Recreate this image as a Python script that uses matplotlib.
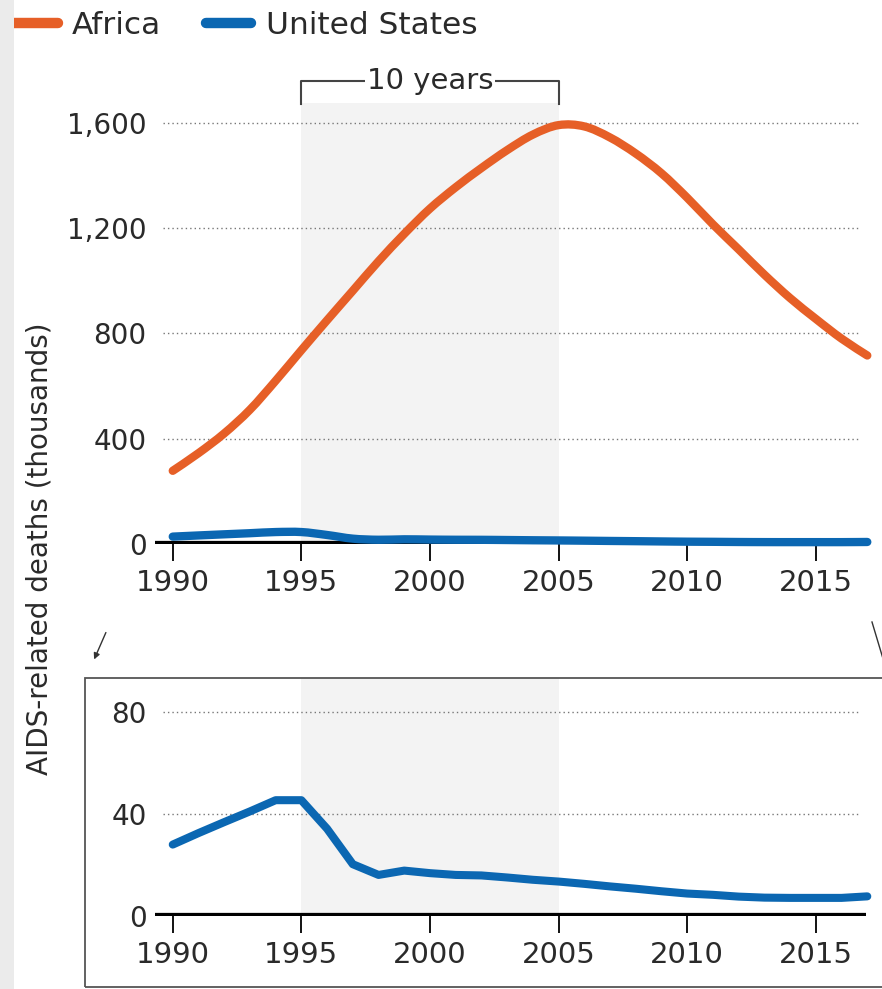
import matplotlib
matplotlib.use("Agg")
import matplotlib.pyplot as plt
from matplotlib.lines import Line2D
from matplotlib.patches import Rectangle, FancyArrowPatch, PathPatch
from matplotlib.path import Path
import matplotlib.transforms as mtransforms

plt.rcParams['font.family'] = ['DejaVu Sans']

# ---- data ----
years = list(range(1990, 2018))
africa = [278, 345, 420, 510, 620, 736, 850, 962, 1074, 1178, 1274, 1355, 1428,
          1496, 1555, 1591, 1586, 1544, 1483, 1408, 1315, 1214, 1119, 1023, 934,
          855, 780, 716]
united_states = [28, 32.5, 36.8, 41, 45.4, 45.4, 34.2, 20.3, 16.1, 17.8, 16.8,
                 16.1, 15.9, 15.1, 14.2, 13.5, 12.6, 11.6, 10.7, 9.7, 8.8, 8.3,
                 7.6, 7.2, 7.1, 7.1, 7.1, 7.7]
series_names = ["Africa", "United States"]
top_ticks = [0, 400, 800, 1200, 1600]
top_ticklabels = ["0", "400", "800", "1,200", "1,600"]
bot_ticks = [0, 40, 80]
bot_ticklabels = ["0", "40", "80"]
x_ticks = [1990, 1995, 2000, 2005, 2010, 2015]
x_ticklabels = ["1990", "1995", "2000", "2005", "2010", "2015"]
highlight_span = (1995, 2005)
highlight_label = "10 years"
y_label = "AIDS-related deaths (thousands)"

ORANGE = "#E65F27"
BLUE = "#0B67B2"
SHADE = "#F3F3F3"
TEXT = "#2a2a2a"

W, H = 882, 989
fig = plt.figure(figsize=(W / 100, H / 100), dpi=100)
fig.patch.set_facecolor("white")


def fx(px):
    return px / W


def fy(py):
    return 1 - py / H


xlim = (1989.31, 2016.95)


def smooth_path(xs, ys):
    """Curved rendering (Catmull-Rom as cubic Bezier) through the data points."""
    n = len(xs)
    verts = [(xs[0], ys[0])]
    codes = [Path.MOVETO]
    for i in range(n - 1):
        x0, y0 = (xs[i - 1], ys[i - 1]) if i > 0 else (xs[i], ys[i])
        x1, y1 = xs[i], ys[i]
        x2, y2 = xs[i + 1], ys[i + 1]
        x3, y3 = (xs[i + 2], ys[i + 2]) if i + 2 < n else (x2, y2)
        verts += [(x1 + (x2 - x0) / 6, y1 + (y2 - y0) / 6),
                  (x2 - (x3 - x1) / 6, y2 - (y3 - y1) / 6),
                  (x2, y2)]
        codes += [Path.CURVE4] * 3
    return Path(verts, codes)


def style_axes(ax, ticks, ticklabels, grid_vals, ylim):
    ax.set_xlim(*xlim)
    ax.set_ylim(*ylim)
    for s in ax.spines.values():
        s.set_visible(False)
    ax.set_facecolor("none")
    ax.axvspan(*highlight_span, color=SHADE, zorder=0, lw=0)
    for g in grid_vals:
        ax.axhline(g, xmin=0.011, xmax=0.99, color="#777777", lw=1.0,
                   linestyle=(0, (1, 2.2)), zorder=1)
    ax.axhline(0, color="black", lw=4.5, zorder=2, solid_capstyle="butt")
    ax.set_yticks(ticks)
    ax.set_yticklabels(ticklabels)
    ax.tick_params(axis="y", length=0, pad=6, labelsize=20, labelcolor=TEXT)
    ax.set_xticks(x_ticks)
    ax.set_xticklabels(x_ticklabels)
    ax.tick_params(axis="x", direction="out", length=12, width=1.3,
                   color="black", pad=6, labelsize=21, labelcolor=TEXT)


# ---- top axes ----
ax1 = fig.add_axes([fx(155), fy(544), fx(866 - 155), (544 - 103) / H])
style_axes(ax1, top_ticks, top_ticklabels, top_ticks[1:], (0, 1675))
for vals, col in ((africa, ORANGE), (united_states, BLUE)):
    pp = PathPatch(smooth_path(years, vals), facecolor="none", edgecolor=col,
                   lw=6.0, capstyle="round", joinstyle="round", zorder=4,
                   clip_on=False, transform=ax1.transData)
    ax1.add_patch(pp)

# bracket "10 years"
blend = mtransforms.blended_transform_factory(ax1.transData, ax1.transAxes)
yb = 1 + 22 / 441
ax1.plot([highlight_span[0], highlight_span[0], highlight_span[1], highlight_span[1]],
         [0.998, yb, yb, 0.998], transform=blend, color="#444444", lw=1.5,
         clip_on=False, zorder=5)
ax1.text(sum(highlight_span) / 2, yb, highlight_label, transform=blend,
         ha="center", va="center", fontsize=21, color=TEXT, zorder=6,
         bbox=dict(facecolor="white", edgecolor="none", pad=1.0))

# ---- bottom axes ----
ax2 = fig.add_axes([fx(155), fy(916), fx(866 - 155), (916 - 678) / H])
style_axes(ax2, bot_ticks, bot_ticklabels, bot_ticks[1:], (0, 93.3))
ax2.plot(years, united_states, color=BLUE, lw=5.8, solid_capstyle="round",
         solid_joinstyle="round", zorder=4, clip_on=False)

# inset frame
fig.add_artist(Rectangle((fx(85), fy(987)), fx(900 - 85), (987 - 678) / H,
                         transform=fig.transFigure, facecolor="none",
                         edgecolor="#555555", lw=1.3, zorder=10))

# zoom arrows
fig.add_artist(FancyArrowPatch((fx(107), fy(630)), (fx(93), fy(662)),
                               transform=fig.transFigure, arrowstyle="-|>",
                               mutation_scale=9, color="#333333", lw=1.0))
fig.add_artist(Line2D([fx(872), fx(884)], [fy(622), fy(662)],
                      transform=fig.transFigure, color="#333333", lw=1.0))

# legend
ly = fy(23)
fig.add_artist(Line2D([fx(8), fx(58)], [ly, ly], transform=fig.transFigure,
                      color=ORANGE, lw=7.5, solid_capstyle="round"))
fig.text(fx(72), ly, series_names[0], fontsize=22.5, color=TEXT,
         ha="left", va="center_baseline")
fig.add_artist(Line2D([fx(206), fx(251)], [ly, ly], transform=fig.transFigure,
                      color=BLUE, lw=7.5, solid_capstyle="round"))
fig.text(fx(266), ly, series_names[1], fontsize=22.5, color=TEXT,
         ha="left", va="center_baseline")

# y label
fig.text(fx(40), fy(549), y_label, rotation=90, ha="center", va="center",
         fontsize=20, color=TEXT)

# left gray strip
fig.add_artist(Rectangle((0, 0), fx(14), 1, transform=fig.transFigure,
                         facecolor="#EBEBEB", edgecolor="none", zorder=20))

fig.savefig("out.png", dpi=100)
